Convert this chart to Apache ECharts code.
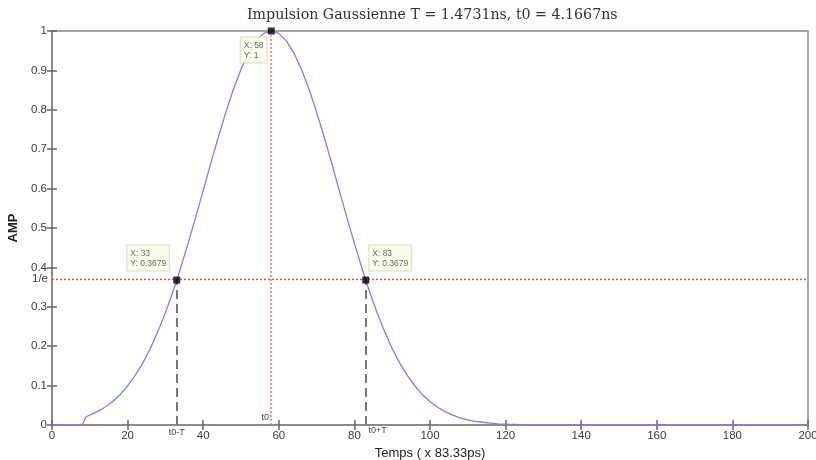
<!DOCTYPE html>
<html>
<head>
<meta charset="utf-8">
<script src="https://cdn.jsdelivr.net/npm/echarts@6/dist/echarts.min.js"></script>
<style>
  html, body { margin: 0; padding: 0; background: #fff; }
  #chart { width: 816px; height: 460px; }
</style>
</head>
<body>
<div id="chart"></div>
<script>
// echantillons (x en pas de 83.33ps) et amplitude
const timeSteps = [0, 8, 9, 10, 12, 14, 16, 18, 20, 22, 24, 26, 28, 30, 32, 33, 34, 36, 38, 40,
  42, 44, 46, 48, 50, 52, 54, 56, 58, 60, 62, 64, 66, 68, 70, 72, 74, 76, 78, 80,
  82, 83, 84, 86, 88, 90, 92, 94, 96, 98, 100, 102, 104, 106, 108, 110, 112, 114, 116, 118,
  120, 124, 130, 200]
const amplitude = [0, 0, 0.021, 0.025, 0.034, 0.045, 0.059, 0.077, 0.099, 0.126, 0.157, 0.194, 0.237, 0.285, 0.339, 0.368, 0.398, 0.461, 0.527, 0.595,
  0.664, 0.731, 0.794, 0.852, 0.903, 0.944, 0.975, 0.994, 1, 0.994, 0.975, 0.944, 0.903, 0.852, 0.794, 0.731, 0.664, 0.595, 0.527, 0.461,
  0.398, 0.368, 0.339, 0.285, 0.237, 0.194, 0.157, 0.126, 0.099, 0.077, 0.059, 0.045, 0.034, 0.025, 0.018, 0.013, 0.009, 0.007, 0.005, 0.003,
  0.002, 0.001, 0, 0]

// points marques (data tips)
const tipX = [33, 58, 83]
const tipY = [0.3679, 1, 0.3679]
const t0 = 58
const invE = 0.3679

const lineData = timeSteps.map((t, i) => [t, amplitude[i]])

const axisGray = '#8a8a8a'
const labelStyle = { color: '#3a3a3a', fontSize: 11.5, fontFamily: 'Liberation Sans' }
const smallLabel = { color: '#444', fontSize: 9, fontFamily: 'Liberation Sans' }

const chart = echarts.init(document.getElementById('chart'))
chart.setOption({
  animation: false,
  title: {
    text: 'Impulsion Gaussienne T = 1.4731ns, t0 = 4.1667ns',
    left: 242,
    top: 3,
    textStyle: { fontFamily: 'DejaVu Serif', fontSize: 14.2, fontWeight: 'normal', color: '#333' }
  },
  grid: {
    left: 52, right: 8, top: 31, bottom: 35,
    outerBoundsMode: 'none',
    show: true, borderColor: axisGray, borderWidth: 1.5
  },
  xAxis: [
    {
      type: 'value', min: 0, max: 200, interval: 20,
      name: 'Temps ( x 83.33ps)', nameLocation: 'middle', nameGap: 16,
      nameTextStyle: { fontFamily: 'Liberation Sans', fontSize: 13, color: '#222' },
      axisLine: { lineStyle: { color: axisGray, width: 1.5 } },
      axisTick: { inside: true, length: 5, lineStyle: { color: '#666', width: 1.5 } },
      axisLabel: Object.assign({ margin: 5 }, labelStyle),
      splitLine: { show: false }
    },
    {
      type: 'value', min: 0, max: 200, interval: 20, position: 'top',
      axisLine: { lineStyle: { color: axisGray, width: 1.5 } },
      axisTick: { inside: true, length: 5, lineStyle: { color: '#666', width: 1.5 } },
      axisLabel: { show: false },
      splitLine: { show: false }
    }
  ],
  yAxis: [
    {
      type: 'value', min: 0, max: 1, interval: 0.1,
      name: 'AMP', nameLocation: 'middle', nameGap: 26,
      nameTextStyle: { fontFamily: 'Liberation Sans', fontSize: 13, fontWeight: 'bold', color: '#222' },
      axisLine: { lineStyle: { color: axisGray, width: 1.5 } },
      axisTick: { inside: true, length: 5, lineStyle: { color: '#666', width: 1.5 } },
      axisLabel: Object.assign({ margin: 5 }, labelStyle),
      splitLine: { show: false }
    },
    {
      type: 'value', min: 0, max: 1, interval: 0.1, position: 'right',
      axisLine: { lineStyle: { color: axisGray, width: 1.5 } },
      axisTick: { inside: true, length: 5, lineStyle: { color: '#666', width: 1.5 } },
      axisLabel: { show: false },
      splitLine: { show: false }
    }
  ],
  series: [
    {
      type: 'line',
      data: lineData,
      symbol: 'none',
      z: 3,
      lineStyle: { color: '#7c7cff', width: 1.3 },
      markLine: {
        silent: true,
        symbol: 'none',
        data: [
          {
            yAxis: invE,
            lineStyle: { color: '#ff3c3c', type: [2, 2], width: 1.4, opacity: 1 },
            label: Object.assign({ show: true, position: 'start', formatter: '1/e', distance: 4 }, labelStyle)
          },
          {
            xAxis: t0,
            lineStyle: { color: '#ff7070', type: [2, 2], width: 1.5, opacity: 1 },
            label: Object.assign({ show: true, position: 'start', formatter: 't0', distance: 0, offset: [-6, -12] }, smallLabel)
          },
          [
            {
              coord: [tipX[0], 0],
              lineStyle: { color: '#777', type: [9, 5], width: 2, opacity: 1 },
              label: Object.assign({ show: true, position: 'start', formatter: 't0-T', distance: 3 }, smallLabel)
            },
            { coord: [tipX[0], invE] }
          ],
          [
            {
              coord: [tipX[2], 0],
              lineStyle: { color: '#777', type: [9, 5], width: 2, opacity: 1 },
              label: Object.assign({ show: true, position: 'start', formatter: 't0+T', distance: 1, offset: [12, 0] }, smallLabel)
            },
            { coord: [tipX[2], invE] }
          ]
        ]
      }
    },
    {
      type: 'scatter',
      z: 5,
      symbol: 'rect',
      symbolSize: 7,
      itemStyle: { color: '#000' },
      data: tipX.map((x, i) => {
        const pos = [[-46, -31], [-27, 10], [7, -31]][i]
        return {
          value: [x, tipY[i]],
          label: {
            show: true,
            position: pos,
            formatter: 'X: ' + x + '\nY: ' + tipY[i],
            backgroundColor: '#fbfbe8',
            borderColor: '#d4d4c4',
            borderWidth: 1,
            padding: [3, 3, 2, 3],
            color: '#444',
            fontSize: 8.5,
            lineHeight: 10,
            fontFamily: 'Liberation Sans'
          }
        }
      })
    }
  ]
})
</script>
</body>
</html>
